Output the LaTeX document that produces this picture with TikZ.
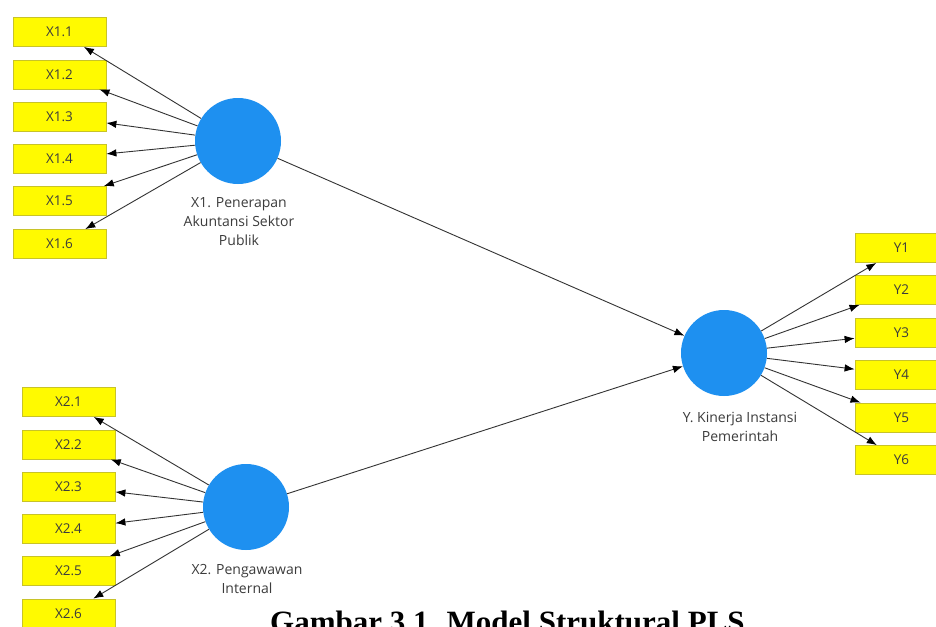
\documentclass[tikz,border=0pt]{standalone}
\usepackage{fontspec}
\setmainfont{Liberation Serif}
\newfontfamily\plsfont{Open Sans}
\usetikzlibrary{arrows.meta}
\definecolor{boxfill}{RGB}{255,250,0}
\definecolor{boxline}{RGB}{200,195,40}
\definecolor{latent}{RGB}{30,144,240}
\definecolor{txt}{RGB}{60,60,60}
\tikzset{
  ind/.style={draw=boxline, fill=boxfill, line width=0.8pt, minimum width=93pt, minimum height=29pt, inner sep=0pt, font=\plsfont\fontsize{13.5}{13.5}\selectfont, text=txt},
  lat/.style={circle, fill=latent, minimum size=86pt, inner sep=0pt},
  lab/.style={align=center, font=\plsfont\fontsize{14}{19}\selectfont, text=txt},
  arr/.style={draw=black!80, line width=0.9pt, -{Latex[length=10pt,width=7.5pt,color=black]}},
}
\begin{document}
\begin{tikzpicture}[x=1pt,y=-1pt]
\useasboundingbox (0,0) rectangle (936,626);
\fill[white] (0,0) rectangle (936,626);
% latent variables
\node[lat] (X1) at (238,141) {};
\node[lat] (X2) at (246,507) {};
\node[lat] (Y) at (724,353) {};
\node[lab, anchor=north] (lX1) at (239,194) {X1. Penerapan\\Akuntansi Sektor\\Publik};
\node[lab, anchor=north] (lX2) at (247,561) {X2. Pengawawan\\Internal};
\node[lab, anchor=north] (lY) at (740,409) {Y. Kinerja Instansi\\Pemerintah};
% indicators X1
\node[ind] (x11) at (59.5,32) {X1.1};
\node[ind] (x12) at (59.5,74.5) {X1.2};
\node[ind] (x13) at (59.5,116.5) {X1.3};
\node[ind] (x14) at (59.5,158.5) {X1.4};
\node[ind] (x15) at (59.5,201) {X1.5};
\node[ind] (x16) at (59.5,244) {X1.6};
% indicators X2
\node[ind] (x21) at (68.5,402) {X2.1};
\node[ind] (x22) at (68.5,444.5) {X2.2};
\node[ind] (x23) at (68.5,486.5) {X2.3};
\node[ind] (x24) at (68.5,529) {X2.4};
\node[ind] (x25) at (68.5,571) {X2.5};
\node[ind] (x26) at (68.5,613.5) {X2.6};
% indicators Y
\node[ind] (y1) at (901.5,248) {Y1};
\node[ind] (y2) at (901.5,290) {Y2};
\node[ind] (y3) at (901.5,333) {Y3};
\node[ind] (y4) at (901.5,375) {Y4};
\node[ind] (y5) at (901.5,417.5) {Y5};
\node[ind] (y6) at (901.5,460) {Y6};
% outer arrows
\foreach \i in {1,...,6} {
  \draw[arr] (X1) -- (x1\i);
  \draw[arr] (X2) -- (x2\i);
  \draw[arr] (Y) -- (y\i);
}
% structural arrows
\draw[arr] (X1) -- (Y);
\draw[arr] (X2) -- (Y);
% caption
\node[anchor=base west, inner sep=0pt, font=\bfseries\fontsize{31}{31}\selectfont] (cap) at (270,632) {Gambar 3.1. Model Struktural PLS};
\end{tikzpicture}
\end{document}
